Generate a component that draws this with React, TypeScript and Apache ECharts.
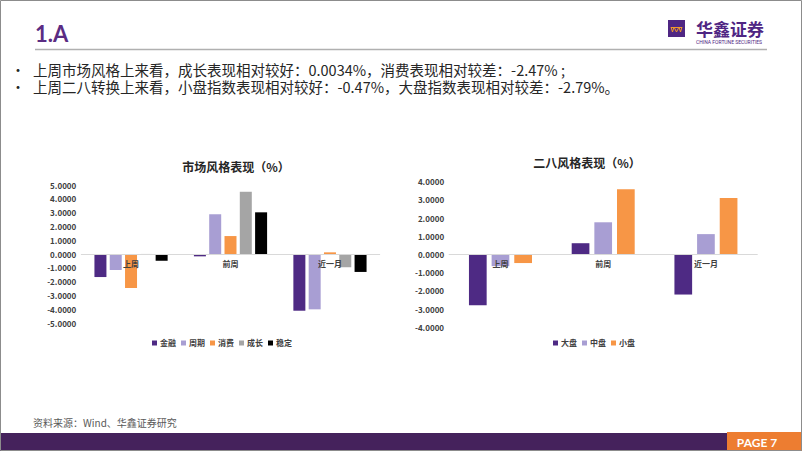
import React, { useEffect, useRef } from "react";
import * as echarts from "echarts";

const categories = ["上周", "前周", "近一月"];

const styleNames = ["金融", "周期", "消费", "成长", "稳定"];
const styleValues = [
  [-1.67, -0.17, -4.11],
  [-1.16, 2.88, -4.01],
  [-2.47, 1.3, 0.12],
  [0.0034, 4.51, -0.96],
  [-0.49, 3.02, -1.3],
];
const styleColors = ["#4e2a84", "#a89ed3", "#f79646", "#a5a5a5", "#000000"];

const capNames = ["大盘", "中盘", "小盘"];
const capValues = [
  [-2.79, 0.62, -2.2],
  [-0.64, 1.77, 1.12],
  [-0.47, 3.59, 3.11],
];
const capColors = ["#4e2a84", "#a89ed3", "#f79646"];

const leftTitle = "市场风格表现（%）";
const rightTitle = "二八风格表现（%）";
const headerTitle = "1.A";
const bullet1 = "上周市场风格上来看，成长表现相对较好：0.0034%，消费表现相对较差：-2.47% ;";
const bullet2 = "上周二八转换上来看，小盘指数表现相对较好：-0.47%，大盘指数表现相对较差：-2.79%。";
const sourceText = "资料来源：Wind、华鑫证券研究";
const pageText = "PAGE 7";

const FONT = '"Noto Sans CJK SC", "Noto Sans", sans-serif';

export default function App() {
  const ref = useRef<HTMLDivElement>(null);

  useEffect(() => {
    if (!ref.current) return;
    const chart = echarts.init(ref.current, undefined, { renderer: "svg" });

    const xAxisCommon = (gridIndex: number, offset: number) => ({
      type: "category",
      gridIndex,
      data: categories,
      position: "bottom",
      offset,
      z: 10,
      axisLine: { onZero: false, lineStyle: { color: "#d9d9d9", width: 1 } },
      axisTick: { show: false },
      axisLabel: {
        fontSize: 8,
        fontWeight: "bold",
        color: "#404040",
        margin: 5,
        fontFamily: FONT,
      },
    });

    const yAxisCommon = (gridIndex: number, lim: number) => ({
      type: "value",
      gridIndex,
      min: -lim,
      max: lim,
      interval: 1,
      axisLine: { show: false },
      axisTick: { show: false },
      splitLine: { show: false },
      axisLabel: {
        fontSize: 8,
        fontWeight: "bold",
        color: "#404040",
        margin: 5,
        fontFamily: FONT,
        formatter: (v: number) => v.toFixed(4),
      },
    });

    const option: any = {
      animation: false,
      backgroundColor: "#ffffff",
      textStyle: { fontFamily: FONT },
      title: [
        {
          text: leftTitle,
          left: 236,
          top: 160,
          textAlign: "center",
          padding: 0,
          textStyle: { fontSize: 12, fontWeight: "bold", color: "#262626", fontFamily: FONT },
        },
        {
          text: rightTitle,
          left: 587,
          top: 156,
          textAlign: "center",
          padding: 0,
          textStyle: { fontSize: 12, fontWeight: "bold", color: "#262626", fontFamily: FONT },
        },
      ],
      legend: [
        {
          data: styleNames,
          left: 152,
          top: 339,
          padding: 0,
          itemWidth: 5,
          itemHeight: 5,
          itemGap: 5,
          icon: "rect",
          textStyle: { fontSize: 8, fontWeight: "bold", color: "#404040", fontFamily: FONT, padding: [0, 0, 0, -2] },
        },
        {
          data: capNames,
          left: 553,
          top: 339,
          padding: 0,
          itemWidth: 5,
          itemHeight: 5,
          itemGap: 5,
          icon: "rect",
          textStyle: { fontSize: 8, fontWeight: "bold", color: "#404040", fontFamily: FONT, padding: [0, 0, 0, -2] },
        },
      ],
      grid: [
        { left: 81.3, top: 185, width: 298.4, height: 138 },
        { left: 449.1, top: 181.7, width: 308.2, height: 145.6 },
      ],
      xAxis: [xAxisCommon(0, -69), xAxisCommon(1, -72.8)],
      yAxis: [yAxisCommon(0, 5), yAxisCommon(1, 4)],
      series: [
        ...styleNames.map((name, i) => ({
          name,
          type: "bar",
          xAxisIndex: 0,
          yAxisIndex: 0,
          data: styleValues[i],
          barWidth: 12,
          barGap: "27.5%",
          itemStyle: { color: styleColors[i] },
        })),
        ...capNames.map((name, i) => ({
          name,
          type: "bar",
          xAxisIndex: 1,
          yAxisIndex: 1,
          data: capValues[i],
          barWidth: 17.7,
          barGap: "28%",
          itemStyle: { color: capColors[i] },
        })),
      ],
      graphic: [
        {
          type: "rect",
          shape: { x: 0.5, y: 0.5, width: 801, height: 450 },
          style: { fill: "none", stroke: "#8c8c8c", lineWidth: 1 },
          silent: true,
          z: 100,
        },
        {
          type: "text",
          x: 35,
          y: 33,
          style: {
            text: headerTitle,
            fontSize: 22,
            fontWeight: "bold",
            fontFamily: "Lato, sans-serif",
            fill: "#5b2c83",
            verticalAlign: "middle",
          },
        },
        {
          type: "line",
          shape: { x1: 35, y1: 49.5, x2: 767, y2: 49.5 },
          style: { stroke: "#b0b0b0", lineWidth: 1.5 },
        },
        {
          type: "rect",
          shape: { x: 668, y: 20, width: 17, height: 17 },
          style: { fill: "#4f2683" },
        },
        {
          type: "polyline",
          shape: {
            points: [
              [671, 27], [672.5, 32], [674, 27], [676.5, 32], [679, 27], [680.5, 32], [682, 27],
            ],
          },
          style: { stroke: "#f39a2b", lineWidth: 1, fill: "none" },
        },
        {
          type: "line",
          shape: { x1: 671, y1: 27.5, x2: 682, y2: 27.5 },
          style: { stroke: "#f39a2b", lineWidth: 1 },
        },
        {
          type: "text",
          x: 696,
          y: 28,
          style: {
            text: "华鑫证券",
            fontSize: 17,
            fontWeight: "bold",
            fontFamily: FONT,
            fill: "#4f2683",
            verticalAlign: "middle",
          },
        },
        {
          type: "text",
          x: 696,
          y: 42,
          style: {
            text: "CHINA FORTUNE SECURITIES",
            fontSize: 5,
            fontFamily: "Roboto, sans-serif",
            fill: "#4f2683",
            verticalAlign: "middle",
          },
        },
        {
          type: "text",
          x: 11,
          y: 69,
          style: { text: "•", fontSize: 14, fill: "#262626", verticalAlign: "middle", fontFamily: FONT, lineHeight: 14 },
        },
        {
          type: "text",
          x: 11,
          y: 86,
          style: { text: "•", fontSize: 14, fill: "#262626", verticalAlign: "middle", fontFamily: FONT, lineHeight: 14 },
        },
        {
          type: "text",
          x: 33,
          y: 69,
          style: { text: bullet1, fontSize: 14.5, lineHeight: 16, fill: "#262626", verticalAlign: "middle", fontFamily: FONT },
        },
        {
          type: "text",
          x: 33,
          y: 86,
          style: { text: bullet2, fontSize: 14.5, lineHeight: 16, fill: "#262626", verticalAlign: "middle", fontFamily: FONT },
        },
        {
          type: "text",
          x: 33,
          y: 422,
          style: { text: sourceText, fontSize: 10, fill: "#595959", verticalAlign: "middle", fontFamily: FONT },
        },
        {
          type: "rect",
          shape: { x: 0, y: 433, width: 727, height: 18 },
          style: { fill: "#45225c" },
        },
        {
          type: "rect",
          shape: { x: 727, y: 432, width: 75, height: 19 },
          style: { fill: "#ed7d31" },
        },
        {
          type: "text",
          x: 757,
          y: 442,
          style: {
            text: pageText,
            fontSize: 12,
            fontWeight: "bold",
            fontFamily: "Lato, sans-serif",
            fill: "#ffffff",
            align: "center",
            verticalAlign: "middle",
          },
        },
      ],
    };

    chart.setOption(option);
    return () => chart.dispose();
  }, []);

  return (
    <div
      ref={ref}
      style={{ position: "fixed", left: 0, top: 0, width: 802, height: 451 }}
    />
  );
}
